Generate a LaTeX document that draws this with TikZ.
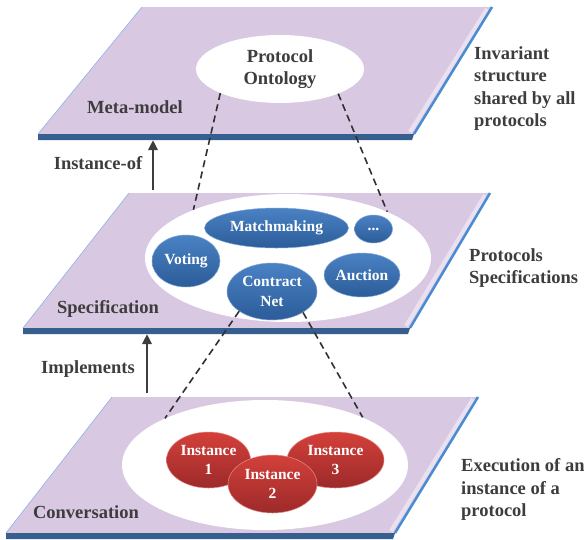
\documentclass[tikz,border=0pt]{standalone}
\usepackage{fontspec}
\setmainfont{Liberation Serif}
\usetikzlibrary{shapes.geometric, arrows.meta}

\definecolor{platefill}{RGB}{217,200,226}
\definecolor{bandblue}{RGB}{54,94,143}
\definecolor{rimblue}{RGB}{74,140,210}
\definecolor{leftrim}{RGB}{140,180,226}
\definecolor{blueTop}{RGB}{74,130,196}
\definecolor{blueBot}{RGB}{44,92,153}
\definecolor{redTop}{RGB}{212,64,58}
\definecolor{redBot}{RGB}{156,42,42}
\definecolor{txtgray}{RGB}{61,61,61}

\tikzset{
    lbl/.style={font=\bfseries\fontsize{18.5}{22.5}\selectfont, text=txtgray, align=left, inner sep=0pt},
    hole/.style={ellipse, fill=white, inner sep=0pt},
    proto/.style={ellipse, inner sep=0pt, top color=blueTop, bottom color=blueBot, draw=blueTop!70!white, line width=0.5pt, text=white, align=center, font=\bfseries\fontsize{15.5}{20}\selectfont},
    inst/.style={ellipse, inner sep=0pt, top color=redTop, bottom color=redBot, draw=redTop!60!white, line width=0.5pt, text=white, align=center, font=\bfseries\fontsize{15.5}{19}\selectfont},
    link/.style={draw=txtgray!80!black, line width=1.6pt, dash pattern=on 7pt off 4.5pt},
    rel/.style={draw=txtgray, line width=2.8pt, -{Triangle[length=10pt,width=9pt]}}
}

\begin{document}
\begin{tikzpicture}[x=1pt, y=1pt]
    \useasboundingbox (0,0) rectangle (584,-539);

    \fill[platefill] (142,-7) -- (492,-7) -- (414,-134) -- (38,-134) -- cycle;
    \fill[bandblue] (38,-134) -- (414,-134) -- (412,-140) -- (38,-140) -- cycle;
    \draw[white, line width=4pt, opacity=0.45] (487,-9) -- (410,-132);
    \draw[rimblue, line width=2.5pt] (492,-7) -- (414,-134);
    \draw[leftrim, line width=0.6pt] (142,-7) -- (38,-134);

    \fill[platefill] (129,-193) -- (490,-193) -- (410,-328) -- (23,-328) -- cycle;
    \fill[bandblue] (23,-328) -- (410,-328) -- (408,-334) -- (23,-334) -- cycle;
    \draw[white, line width=4pt, opacity=0.45] (485,-195) -- (406,-326);
    \draw[rimblue, line width=2.5pt] (490,-193) -- (410,-328);
    \draw[leftrim, line width=0.6pt] (129,-193) -- (23,-328);

    \fill[platefill] (112,-397) -- (478,-397) -- (395,-533) -- (6,-533) -- cycle;
    \fill[bandblue] (6,-533) -- (395,-533) -- (393,-539) -- (6,-539) -- cycle;
    \draw[white, line width=4pt, opacity=0.45] (473,-399) -- (391,-531);
    \draw[rimblue, line width=2.5pt] (478,-397) -- (395,-533);
    \draw[leftrim, line width=0.6pt] (112,-397) -- (6,-533);

    \node[hole, minimum width=168pt, minimum height=68pt, lbl, align=center] (onto) at (280,-69) {Protocol\\Ontology};

    \node[hole, minimum width=286pt, minimum height=128pt] (specs) at (288,-258) {};
    \node[proto, minimum width=144pt, minimum height=40pt] (match) at (276.5,-228) {Matchmaking};
    \node[proto, minimum width=38pt, minimum height=28pt] (more) at (373.5,-229) {...};
    \node[proto, minimum width=68pt, minimum height=52pt] (voting) at (186,-261) {Voting};
    \node[proto, minimum width=90pt, minimum height=57pt] (cnet) at (272,-291.5) {Contract\\Net};
    \node[proto, minimum width=76pt, minimum height=44pt] (auction) at (362,-275) {Auction};

    \node[hole, minimum width=286pt, minimum height=130pt] (conv) at (265,-465) {};
    \node[inst, minimum width=84pt, minimum height=56pt] (inst1) at (208.5,-460) {Instance\\1};
    \node[inst, minimum width=97pt, minimum height=56pt] (inst3) at (335.5,-460) {Instance\\3};
    \node[inst, minimum width=89pt, minimum height=58pt] (inst2) at (272.5,-484) {Instance\\2};

    \draw[link] (onto.202) -- (specs.153);
    \draw[link] (onto.337) -- (specs.25);
    \draw[link] (cnet.211) -- (conv.155);
    \draw[link] (cnet.326) -- (conv.26);

    \coordinate (specTop) at (153,-190);
    \coordinate (metaBase) at (153,-140);
    \coordinate (convTop) at (147,-393);
    \coordinate (specBase) at (147,-334);
    \draw[rel] (specTop) -- (metaBase);
    \draw[rel] (convTop) -- (specBase);

    \node[lbl] (meta) at (135,-107) {Meta-model};
    \node[lbl] (instof) at (98,-163) {Instance-of};
    \node[lbl] (spec) at (108,-309) {Specification};
    \node[lbl] (impl) at (88,-369) {Implements};
    \node[lbl] (convlbl) at (86,-512) {Conversation};

    \node[lbl, anchor=west] (invariant) at (474,-88.5) {Invariant\\structure\\shared by all\\protocols};
    \node[lbl, anchor=west] (protospec) at (469,-268) {Protocols\\Specifications};
    \node[lbl, anchor=west] (execution) at (461,-489.5) {Execution of an\\instance of a\\protocol};
\end{tikzpicture}
\end{document}
